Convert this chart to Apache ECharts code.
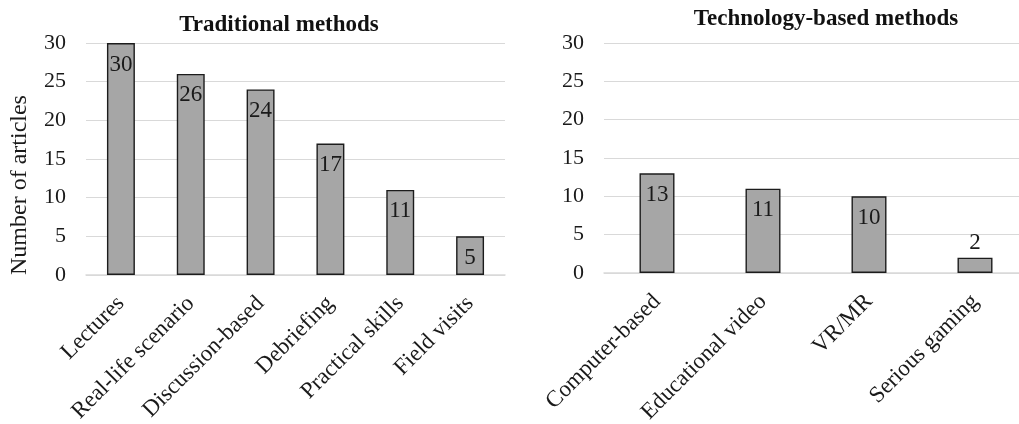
<!DOCTYPE html>
<html>
<head>
<meta charset="utf-8">
<script src="https://cdn.jsdelivr.net/npm/echarts@6/dist/echarts.min.js"></script>
<style>
  html, body { margin: 0; padding: 0; background: #fff; }
  #chart { width: 1019px; height: 424px; }
</style>
</head>
<body>
<div id="chart"></div>
<script>
// Article counts per teaching method
const traditionalCategories = ['Lectures', 'Real-life scenario', 'Discussion-based', 'Debriefing', 'Practical skills', 'Field visits'];
const traditionalValues = [30, 26, 24, 17, 11, 5];

const technologyCategories = ['Computer-based', 'Educational video', 'VR/MR', 'Serious gaming'];
const technologyValues = [13, 11, 10, 2];

const yTicks = [0, 5, 10, 15, 20, 25, 30];

const FONT = '"Liberation Serif", "Times New Roman", serif';
const TEXT = '#1a1a1a';
const BAR_FILL = '#a6a6a6';
const BAR_EDGE = '#1c1c1c';
const GRID_LINE = '#d9d9d9';

const chart = echarts.init(document.getElementById('chart'), null, { renderer: 'canvas' });

function yAxis(gridIndex) {
  return {
    type: 'value',
    gridIndex: gridIndex,
    min: yTicks[0],
    max: yTicks[yTicks.length - 1],
    interval: yTicks[1] - yTicks[0],
    axisLine: { show: false },
    axisTick: { show: false },
    splitLine: { lineStyle: { color: GRID_LINE, width: 1 } },
    axisLabel: { fontFamily: FONT, fontSize: 22, color: TEXT, margin: 20 }
  };
}

function xAxis(gridIndex, cats) {
  return {
    type: 'category',
    gridIndex: gridIndex,
    data: cats,
    axisLine: { lineStyle: { color: GRID_LINE, width: 1.5 } },
    axisTick: { show: false },
    axisLabel: {
      fontFamily: FONT, fontSize: 23, color: TEXT,
      rotate: 45, margin: 25, interval: 0
    }
  };
}

function barData(values) {
  return values.map(function (v) {
    // very short bars carry their value above the bar
    if (v < 4) {
      return { value: v, label: { position: 'top', distance: 3 } };
    }
    return v;
  });
}

function barSeries(index, values, gap) {
  return {
    type: 'bar',
    xAxisIndex: index,
    yAxisIndex: index,
    data: barData(values),
    barCategoryGap: gap,
    itemStyle: { color: BAR_FILL, borderColor: BAR_EDGE, borderWidth: 1.4 },
    label: {
      show: true,
      position: 'insideTop',
      distance: 10,
      fontFamily: FONT,
      fontSize: 23,
      color: TEXT
    },
    emphasis: { disabled: true },
    animation: false
  };
}

chart.setOption({
  backgroundColor: '#ffffff',
  animation: false,
  title: [
    {
      text: 'Traditional methods',
      left: 274, top: 9, textAlign: 'center',
      textStyle: { fontFamily: FONT, fontSize: 23, fontWeight: 'bold', color: '#111' }
    },
    {
      text: 'Technology-based methods',
      left: 821, top: 3, textAlign: 'center',
      textStyle: { fontFamily: FONT, fontSize: 23, fontWeight: 'bold', color: '#111' }
    }
  ],
  graphic: [
    {
      type: 'text',
      x: 20,
      y: 185,
      rotation: Math.PI / 2,
      style: {
        text: 'Number of articles',
        font: '24px ' + FONT,
        fill: TEXT,
        align: 'center',
        verticalAlign: 'middle'
      }
    }
  ],
  grid: [
    { left: 86, top: 43, width: 419, height: 232, outerBoundsMode: 'none', containLabel: false },
    { left: 604, top: 43, width: 424, height: 230, outerBoundsMode: 'none', containLabel: false }
  ],
  xAxis: [xAxis(0, traditionalCategories), xAxis(1, technologyCategories)],
  yAxis: [yAxis(0), yAxis(1)],
  series: [
    barSeries(0, traditionalValues, '60%'),
    barSeries(1, technologyValues, '67%')
  ]
});
</script>
</body>
</html>
